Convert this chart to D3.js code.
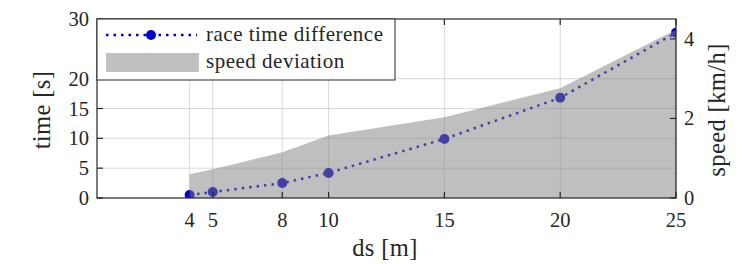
<!DOCTYPE html>
<html>
<head>
<meta charset="utf-8">
<script src="https://cdn.jsdelivr.net/npm/d3@7"></script>
<style>
  body { margin: 0; background: #fff; }
  text { font-family: "Liberation Serif", "Times New Roman", serif; fill: #262626; }
</style>
</head>
<body>
<div id="chart"></div>
<script>
// values
const dsValues = [4, 5, 8, 10, 15, 20, 25];
const raceTimeDiff = [0.5, 1.0, 2.5, 4.2, 9.9, 16.8, 27.7];
const speedDev = [0.6, 0.72, 1.15, 1.57, 2.03, 2.76, 4.23];
const xTicks = [4, 5, 8, 10, 15, 20, 25];
const yLeftTicks = [0, 5, 10, 15, 20, 30];
const yRightTicks = [0, 2, 4];
const legendLabels = ["race time difference", "speed deviation"];

const W = 747, H = 264;
const m = { top: 19, right: 71, bottom: 66, left: 97 };
const iw = W - m.left - m.right, ih = H - m.top - m.bottom;

const svg = d3.select("#chart").append("svg").attr("width", W).attr("height", H);
const g = svg.append("g").attr("transform", `translate(${m.left},${m.top})`);

const x = d3.scaleLinear().domain([0, 25]).range([0, iw]);
const yL = d3.scaleLinear().domain([0, 30]).range([ih, 0]);
const yR = d3.scaleLinear().domain([0, 4.5]).range([ih, 0]);

svg.append("defs").append("clipPath").attr("id", "clip")
  .append("rect").attr("width", iw).attr("height", ih);

// grid (matlab style faint lines)
const grid = g.append("g").attr("stroke", "#000").attr("stroke-opacity", 0.15);
xTicks.forEach(t => grid.append("line").attr("x1", x(t)).attr("x2", x(t)).attr("y1", 0).attr("y2", ih));
yLeftTicks.filter(t => t > 0 && t < 30).forEach(t =>
  grid.append("line").attr("x1", 0).attr("x2", iw).attr("y1", yL(t)).attr("y2", yL(t)));

const plot = g.append("g").attr("clip-path", "url(#clip)");
const pts = dsValues.map((d, i) => ({ ds: d, t: raceTimeDiff[i], s: speedDev[i] }));

// dotted race time line + markers
plot.append("path").datum(pts)
  .attr("d", d3.line().x(d => x(d.ds)).y(d => yL(d.t)))
  .attr("fill", "none").attr("stroke", "#0000cc").attr("stroke-width", 2.5)
  .attr("stroke-dasharray", "2.5,5");
plot.selectAll("circle.pt").data(pts).join("circle")
  .attr("cx", d => x(d.ds)).attr("cy", d => yL(d.t)).attr("r", 5)
  .attr("fill", "#0000cc");

// speed area on top, half transparent
plot.append("path").datum(pts)
  .attr("d", d3.area().x(d => x(d.ds)).y0(yR(0)).y1(d => yR(d.s)))
  .attr("fill", "#808080").attr("fill-opacity", 0.5);

// axes box + inward ticks
const ax = g.append("g").attr("stroke", "#262626").attr("stroke-width", 1.2);
ax.append("rect").attr("width", iw).attr("height", ih).attr("fill", "none");
const tl = 6;
xTicks.forEach(t => {
  ax.append("line").attr("x1", x(t)).attr("x2", x(t)).attr("y1", ih).attr("y2", ih - tl);
  ax.append("line").attr("x1", x(t)).attr("x2", x(t)).attr("y1", 0).attr("y2", tl);
});
yLeftTicks.forEach(t => ax.append("line").attr("x1", 0).attr("x2", tl).attr("y1", yL(t)).attr("y2", yL(t)));
yRightTicks.forEach(t => ax.append("line").attr("x1", iw).attr("x2", iw - tl).attr("y1", yR(t)).attr("y2", yR(t)));

const fs = 20.5;
g.selectAll("text.xt").data(xTicks).join("text")
  .attr("x", d => x(d)).attr("y", ih + 29).attr("text-anchor", "middle")
  .attr("font-size", fs).text(d => d);
g.selectAll("text.yl").data(yLeftTicks).join("text")
  .attr("x", -8).attr("y", d => yL(d) + 7).attr("text-anchor", "end")
  .attr("font-size", fs).text(d => d);
g.selectAll("text.yr").data(yRightTicks).join("text")
  .attr("x", iw + 8).attr("y", d => yR(d) + 7)
  .attr("font-size", fs).text(d => d);

// axis labels (a bit bigger than tick labels)
const lfs = 24.5;
g.append("text").attr("x", 288).attr("y", ih + 57.5).attr("text-anchor", "middle")
  .attr("font-size", lfs).attr("letter-spacing", 0.4).text("ds [m]");
g.append("text").attr("transform", `translate(-47,91) rotate(-90)`)
  .attr("text-anchor", "middle").attr("font-size", lfs).attr("letter-spacing", 0.4).text("time [s]");
g.append("text").attr("transform", `translate(${iw + 49},91) rotate(-90)`)
  .attr("text-anchor", "middle").attr("font-size", lfs).attr("letter-spacing", 0.4).text("speed [km/h]");

// legend box in the top left corner
const lg = g.append("g");
lg.append("rect").attr("x", 0).attr("y", 0).attr("width", 298).attr("height", 61)
  .attr("fill", "#fff").attr("stroke", "#262626").attr("stroke-width", 1);
lg.append("line").attr("x1", 9).attr("x2", 100).attr("y1", 16).attr("y2", 16)
  .attr("stroke", "#0000cc").attr("stroke-width", 2.5).attr("stroke-dasharray", "2.5,5");
lg.append("circle").attr("cx", 54).attr("cy", 16).attr("r", 5).attr("fill", "#0000cc");
lg.append("rect").attr("x", 9).attr("y", 34).attr("width", 93).attr("height", 19).attr("fill", "#c0c0c0");
lg.selectAll("text.lg").data(legendLabels).join("text")
  .attr("x", 109).attr("y", (d, i) => 22 + i * 27)
  .attr("font-size", 21).attr("letter-spacing", 0.5).text(d => d);
</script>
</body>
</html>
